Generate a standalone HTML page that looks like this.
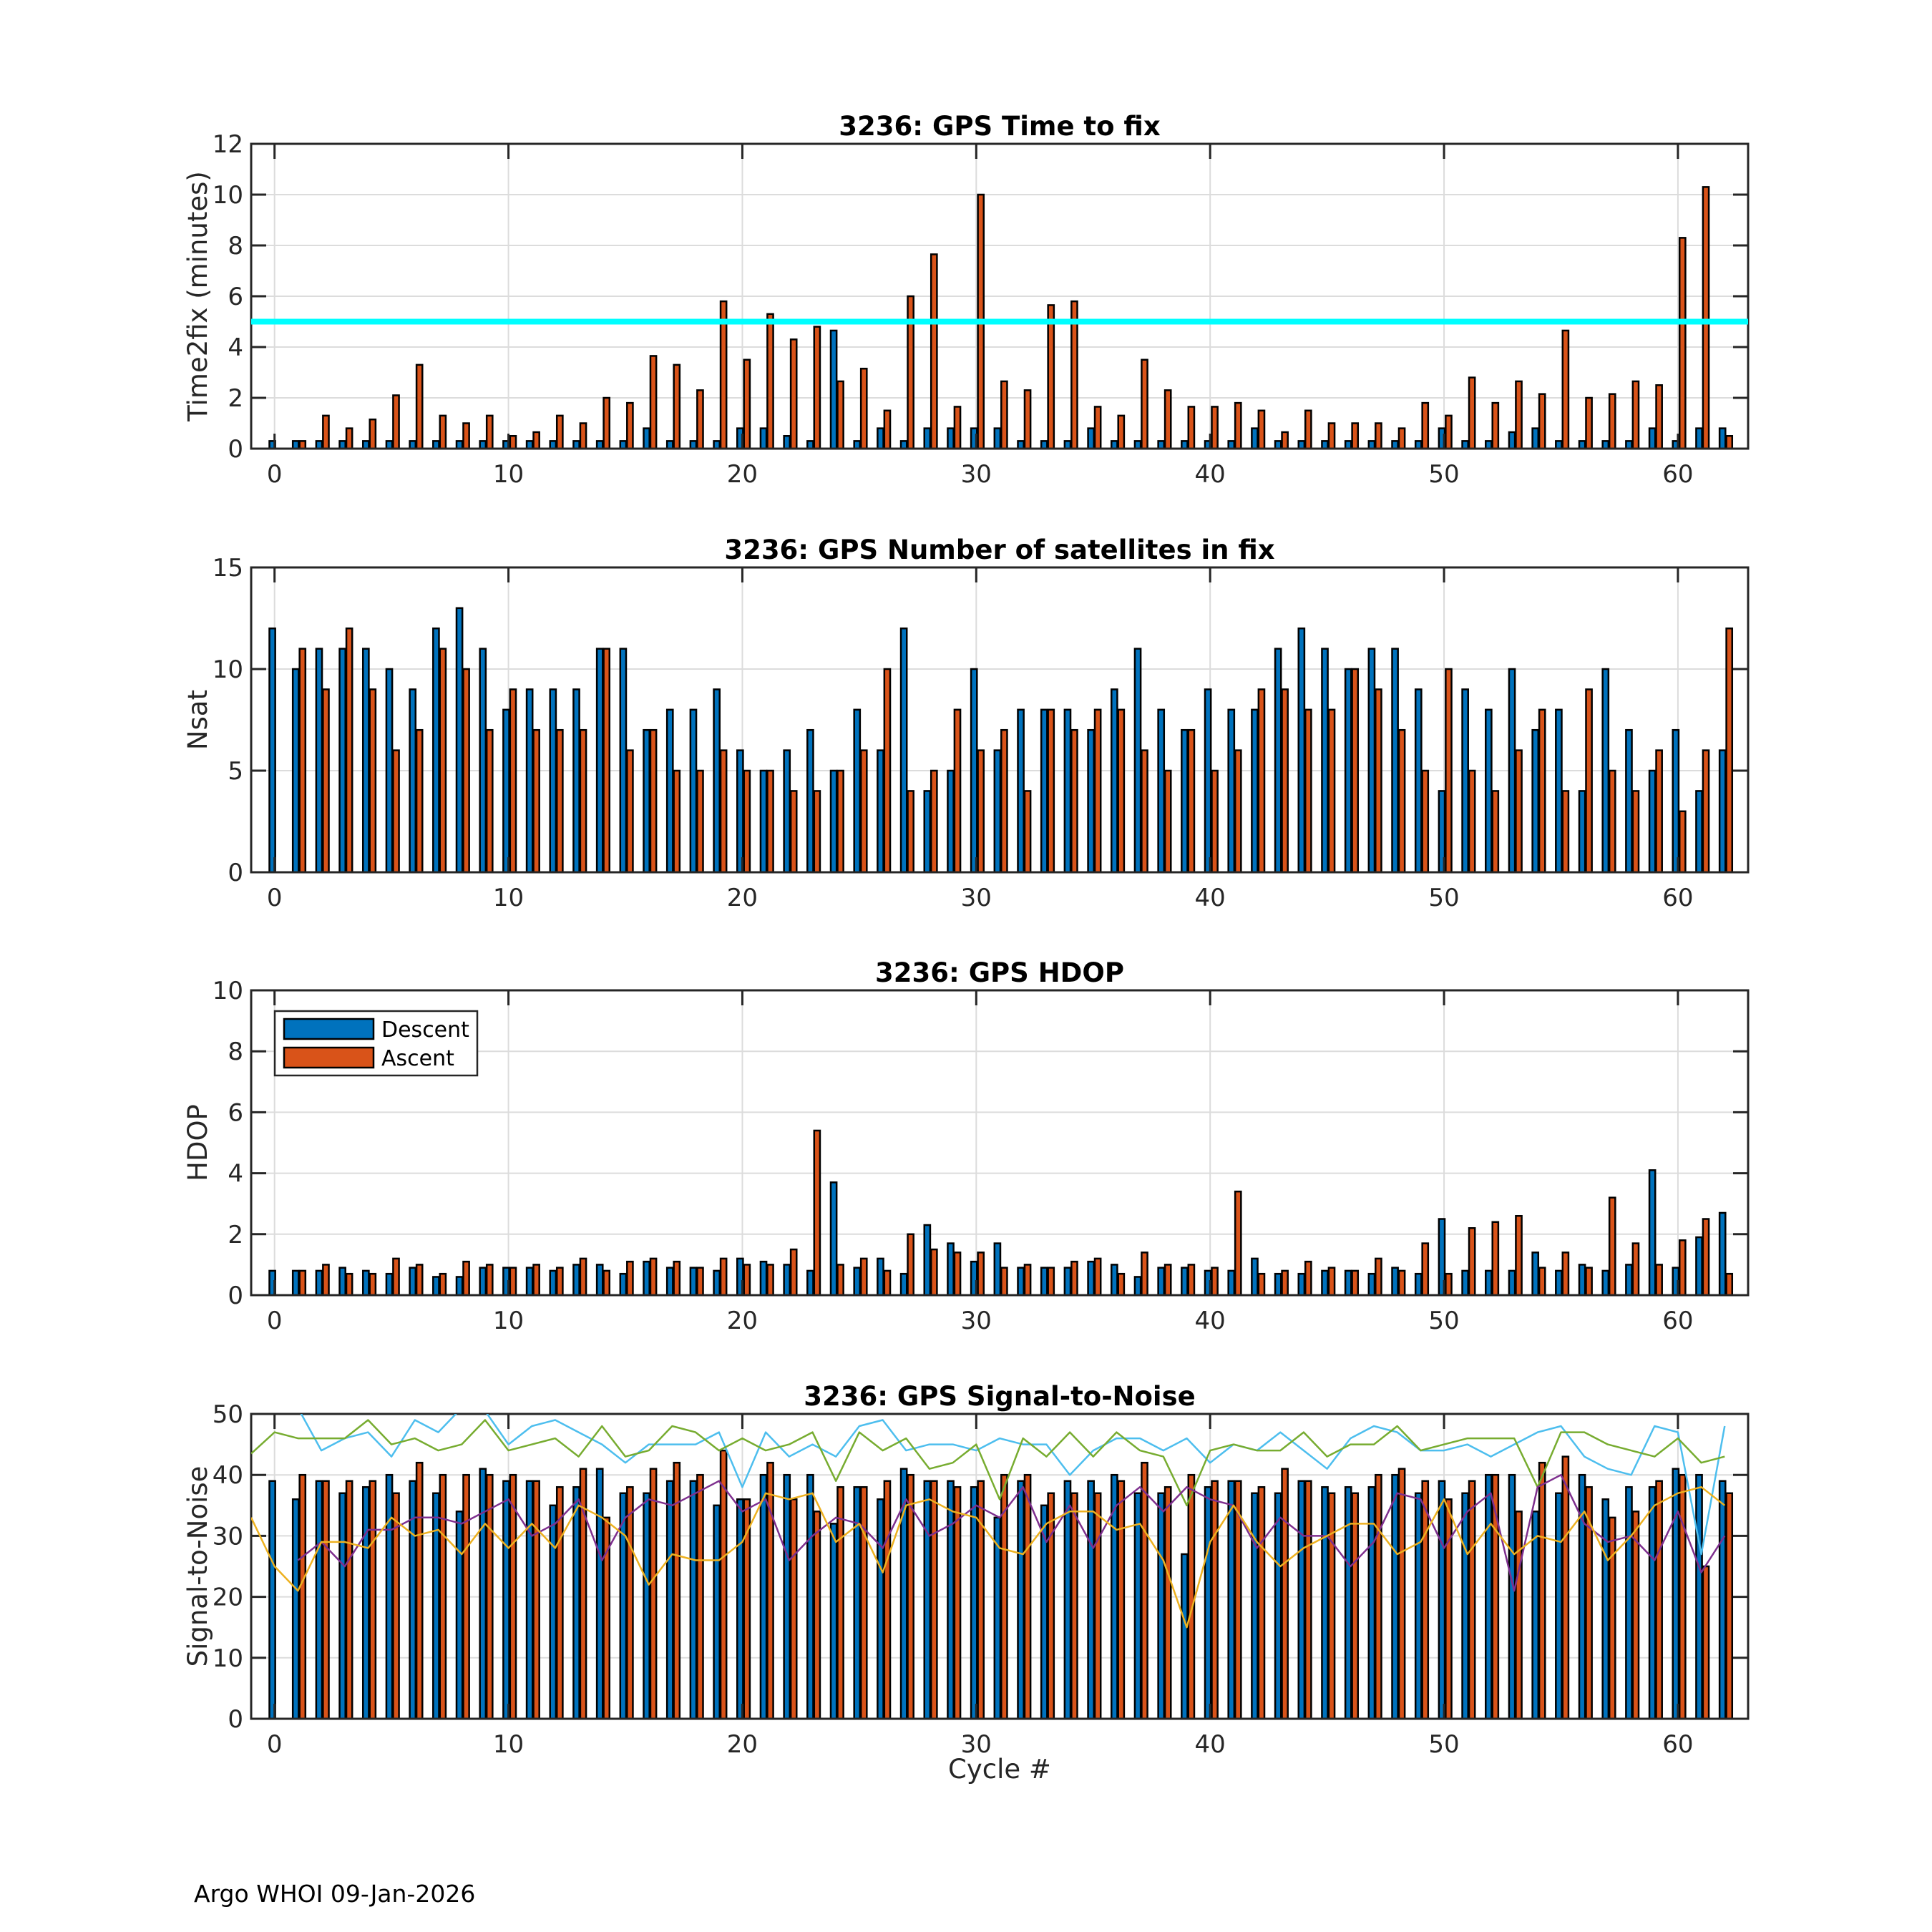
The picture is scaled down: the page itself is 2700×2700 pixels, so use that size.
<!DOCTYPE html>
<html><head><meta charset="utf-8"><style>
html,body{margin:0;padding:0;background:#fff;}
svg{display:block;font-family:"DejaVu Sans","Liberation Sans",sans-serif;}
</style></head><body>
<svg id="fig" width="2700" height="2700" viewBox="0 0 2700 2700" xmlns="http://www.w3.org/2000/svg">
<rect width="2700" height="2700" fill="#fff"/>
<text x="271" y="2658" font-size="33" fill="#000">Argo WHOI 09-Jan-2026</text>
</svg>
<script>
const cycles = Array.from({length:63},(_,i)=>i);
const t2fDescent=[0.3,0.3,0.3,0.3,0.3,0.3,0.3,0.3,0.3,0.3,0.3,0.3,0.3,0.3,0.3,0.3,0.8,0.3,0.3,0.3,0.8,0.8,0.5,0.3,4.65,0.3,0.8,0.3,0.8,0.8,0.8,0.8,0.3,0.3,0.3,0.8,0.3,0.3,0.3,0.3,0.3,0.3,0.8,0.3,0.3,0.3,0.3,0.3,0.3,0.3,0.8,0.3,0.3,0.65,0.8,0.3,0.3,0.3,0.3,0.8,0.3,0.8,0.8];
const t2fAscent=[0,0.3,1.3,0.8,1.15,2.1,3.3,1.3,1.0,1.3,0.5,0.65,1.3,1.0,2.0,1.8,3.65,3.3,2.3,5.8,3.5,5.3,4.3,4.8,2.65,3.15,1.5,6.0,7.65,1.65,10.0,2.65,2.3,5.65,5.8,1.65,1.3,3.5,2.3,1.65,1.65,1.8,1.5,0.65,1.5,1.0,1.0,1.0,0.8,1.8,1.3,2.8,1.8,2.65,2.15,4.65,2.0,2.15,2.65,2.5,8.3,10.3,0.5];
const nsatDescent=[12,10,11,11,11,10,9,12,13,11,8,9,9,9,11,11,7,8,8,9,6,5,6,7,5,8,6,12,4,5,10,6,8,8,8,7,9,11,8,7,9,8,8,11,12,11,10,11,11,9,4,9,8,10,7,8,4,10,7,5,7,4,6];
const nsatAscent=[0,11,9,12,9,6,7,11,10,7,9,7,7,7,11,6,7,5,5,6,5,5,4,4,5,6,10,4,5,8,6,7,4,8,7,8,8,6,5,7,5,6,9,9,8,8,10,9,7,5,10,5,4,6,8,4,9,5,4,6,3,6,12];
const hdopDescent=[0.8,0.8,0.8,0.9,0.8,0.7,0.9,0.6,0.6,0.9,0.9,0.9,0.8,1.0,1.0,0.7,1.1,0.9,0.9,0.8,1.2,1.1,1.0,0.8,3.7,0.9,1.2,0.7,2.3,1.7,1.1,1.7,0.9,0.9,0.9,1.1,1.0,0.6,0.9,0.9,0.8,0.8,1.2,0.7,0.7,0.8,0.8,0.7,0.9,0.7,2.5,0.8,0.8,0.8,1.4,0.8,1.0,0.8,1.0,4.1,0.9,1.9,2.7];
const hdopAscent=[0,0.8,1.0,0.7,0.7,1.2,1.0,0.7,1.1,1.0,0.9,1.0,0.9,1.2,0.8,1.1,1.2,1.1,0.9,1.2,1.0,1.0,1.5,5.4,1.0,1.2,0.8,2.0,1.5,1.4,1.4,0.9,1.0,0.9,1.1,1.2,0.7,1.4,1.0,1.0,0.9,3.4,0.7,0.8,1.1,0.9,0.8,1.2,0.8,1.7,0.7,2.2,2.4,2.6,0.9,1.4,0.9,3.2,1.7,1.0,1.8,2.5,0.7];
const snrDescent=[39,36,39,37,38,40,39,37,34,41,39,39,35,38,41,37,37,39,39,35,36,40,40,40,32,38,36,41,39,39,38,33,39,35,39,39,40,37,37,27,38,39,37,37,39,38,38,38,40,37,39,37,40,40,34,37,40,36,38,38,41,40,39];
const snrAscent=[0,40,39,39,39,37,42,40,40,40,40,39,38,41,33,38,41,42,40,44,36,42,36,34,38,38,39,40,39,38,39,40,40,37,37,37,39,42,38,40,39,39,38,41,39,37,37,40,41,39,36,39,40,34,42,43,38,33,34,39,40,25,37];
// SNR lines: index 0 = cycle -1, index k = cycle k-1
const snrLineX = Array.from({length:64},(_,i)=>i-1);
const snrCyan=[55,53,51,44,46,47,43,49,47,51,50.5,45,48,49,47,45,42,45,45,45,47,38,47,43,45,43,48,49,44,45,45,44,46,45,45,40,44,46,46,44,46,42,45,44,47,44,41,46,48,47,44,44,45,43,45,47,48,43,41,40,48,47,27,48];
const snrGreen=[43.5,47,46,46,46,49,45,46,44,45,49,44,45,46,43,48,43,44,48,47,44,46,44,45,47,39,47,44,46,41,42,45,36,46,43,47,43,47,44,43,35,44,45,44,44,47,43,45,45,48,44,45,46,46,46,38,47,47,45,44,43,46,42,43];
const snrPurple=[null,null,26,29,25,31,31,33,33,32,34,36,30,32,36,26,33,36,35,37,39,34,36,26,30,33,32,28,36,30,32,35,33,38,29,35,28,35,38,34,38,36,35,28,33,30,30,25,29,37,36,28,34,37,21,38,40,32,29,30,26,34,24,30];
const snrYellow=[33,25,21,29,29,28,33,30,31,27,32,28,32,28,35,33,30,22,27,26,26,29,37,36,37,29,32,24,35,36,34,33,28,27,32,34,34,31,32,26,15,29,35,29,25,28,30,32,32,27,29,36,27,32,27,30,29,34,26,30,35,37,38,35];
const xTicks=[0,10,20,30,40,50,60];
const t2fTicks=[0,2,4,6,8,10,12];
const nsatTicks=[0,5,10,15];
const hdopTicks=[0,2,4,6,8,10];
const snrTicks=[0,10,20,30,40,50];
const threshold=5;

const NS='http://www.w3.org/2000/svg';
const svg=document.getElementById('fig');
const AX_L=351, AX_R=2443, XMIN=-1, XMAX=63, PH=426;
const tops=[201,793,1384,1976];
function xs(v){return AX_L+(v-XMIN)/(XMAX-XMIN)*(AX_R-AX_L);}
function mk(tag,attrs,parent){const e=document.createElementNS(NS,tag);for(const k in attrs)e.setAttribute(k,attrs[k]);(parent||svg).appendChild(e);return e;}

function panel(idx,title,ylabel,ymax,yticks,desc,asc,name){
  const top=tops[idx], bot=top+PH;
  const ys=v=>bot-(v/ymax)*PH;
  const g=mk('g',{});
  
  
  const clip=mk('clipPath',{id:'clip'+idx},g);
  mk('rect',{x:AX_L,y:top,width:AX_R-AX_L,height:PH},clip);
  xTicks.forEach(t=>{const l=mk('line',{x1:xs(t),x2:xs(t),y1:top,y2:bot,stroke:'#dcdcdc','stroke-width':2},g);
    });
  yticks.forEach(t=>{const l=mk('line',{x1:AX_L,x2:AX_R,y1:ys(t),y2:ys(t),stroke:'#dcdcdc','stroke-width':2},g);
    });
  const bars=mk('g',{'clip-path':'url(#clip'+idx+')'},g);
  const bw=(AX_R-AX_L)/(XMAX-XMIN)*0.25;
  cycles.forEach((c,i)=>{
    if(desc[i]>0){const r=mk('rect',{x:xs(c-0.22),y:ys(desc[i]),width:bw,height:bot-ys(desc[i]),fill:'#0072BD',stroke:'#000','stroke-width':2.5},bars);
      }
    if(asc[i]>0){const r=mk('rect',{x:xs(c+0.07),y:ys(asc[i]),width:bw,height:bot-ys(asc[i]),fill:'#D95319',stroke:'#000','stroke-width':2.5},bars);
      }
  });
  xTicks.forEach(t=>{
    mk('line',{x1:xs(t),x2:xs(t),y1:bot,y2:bot-21,stroke:'#262626','stroke-width':3},g);
    mk('line',{x1:xs(t),x2:xs(t),y1:top,y2:top+21,stroke:'#262626','stroke-width':3},g);
    const tx=mk('text',{x:xs(t),y:bot+47,'font-size':34,fill:'#262626','text-anchor':'middle'},g);tx.textContent=t;
    
  });
  yticks.forEach(t=>{
    mk('line',{x1:AX_L,x2:AX_L+21,y1:ys(t),y2:ys(t),stroke:'#262626','stroke-width':3},g);
    mk('line',{x1:AX_R,x2:AX_R-21,y1:ys(t),y2:ys(t),stroke:'#262626','stroke-width':3},g);
    const tx=mk('text',{x:340,y:ys(t)+12,'font-size':34,fill:'#262626','text-anchor':'end'},g);tx.textContent=t;
    
  });
  const box=mk('rect',{x:AX_L,y:top,width:AX_R-AX_L,height:PH,fill:'none',stroke:'#262626','stroke-width':3},g);
  
  const tt=mk('text',{x:(AX_L+AX_R)/2,y:top-12,'font-size':37,'font-weight':'bold',fill:'#000','text-anchor':'middle'},g);tt.textContent=title;
  
  const yl=mk('text',{x:0,y:0,'font-size':37,fill:'#262626','text-anchor':'middle',transform:`translate(289,${top+PH/2}) rotate(-90)`},g);yl.textContent=ylabel;
  
  return {g,ys,bot,top,idx};
}

const p1=panel(0,'3236: GPS Time to fix','Time2fix (minutes)',12,t2fTicks,t2fDescent,t2fAscent,'time-to-fix');
const th=mk('line',{x1:AX_L,x2:AX_R,y1:p1.ys(threshold),y2:p1.ys(threshold),stroke:'#00FFFF','stroke-width':8},p1.g);


panel(1,'3236: GPS Number of satellites in fix','Nsat',15,nsatTicks,nsatDescent,nsatAscent,'nsat');
const p3=panel(2,'3236: GPS HDOP','HDOP',10,hdopTicks,hdopDescent,hdopAscent,'hdop');
const p4=panel(3,'3236: GPS Signal-to-Noise','Signal-to-Noise',50,snrTicks,snrDescent,snrAscent,'snr');

const lg=mk('g',{},p3.g);


mk('rect',{x:384,y:1413,width:283,height:90,fill:'#fff',stroke:'#262626','stroke-width':2.5},lg);
const le1=mk('rect',{x:397,y:1424,width:125,height:28,fill:'#0072BD',stroke:'#000','stroke-width':2.5},lg);


const le2=mk('rect',{x:397,y:1464,width:125,height:28,fill:'#D95319',stroke:'#000','stroke-width':2.5},lg);


const lt1=mk('text',{x:533,y:1449,'font-size':30,fill:'#000'},lg);lt1.textContent='Descent';


const lt2=mk('text',{x:533,y:1489,'font-size':30,fill:'#000'},lg);lt2.textContent='Ascent';



const lineG=mk('g',{'clip-path':'url(#clip3)'},p4.g);
[[snrCyan,'#4DBEEE','snr-line-cyan'],[snrGreen,'#77AC30','snr-line-green'],[snrPurple,'#7E2F8E','snr-line-purple'],[snrYellow,'#EDB120','snr-line-yellow']].forEach(([arr,col,nm])=>{
  let d='',pen=false;
  arr.forEach((v,i)=>{ if(v===null){pen=false;return;} d+=(pen?'L':'M')+xs(snrLineX[i]).toFixed(1)+','+p4.ys(v).toFixed(1)+' '; pen=true;});
  const p=mk('path',{d:d,fill:'none',stroke:col,'stroke-width':2.5,'stroke-linejoin':'round'},lineG);
  
  
});
const xl=mk('text',{x:(AX_L+AX_R)/2,y:2485,'font-size':37,fill:'#262626','text-anchor':'middle'});
xl.textContent='Cycle #';


</script>
</body></html>
